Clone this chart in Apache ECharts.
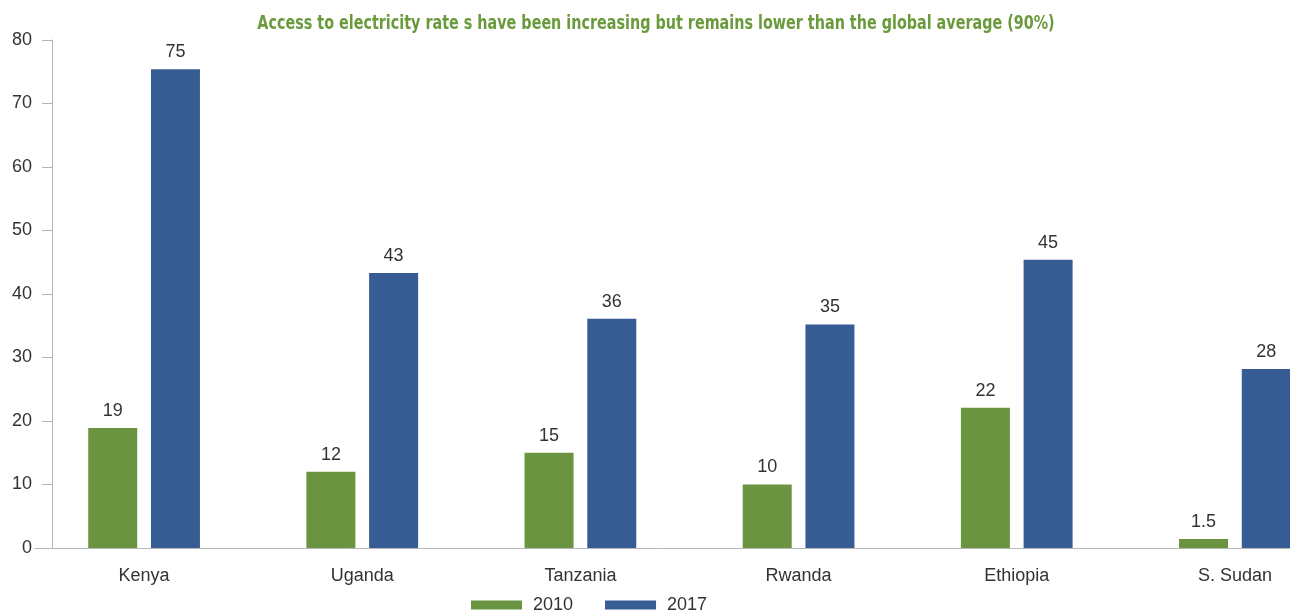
<!DOCTYPE html>
<html>
<head>
<meta charset="utf-8">
<script src="https://cdn.jsdelivr.net/npm/echarts@6/dist/echarts.min.js"></script>
<style>
  html, body { margin: 0; padding: 0; background: #fff; }
  #chart { width: 1290px; height: 615px; }
</style>
</head>
<body>
<div id="chart"></div>
<script>
const countries = ["Kenya", "Uganda", "Tanzania", "Rwanda", "Ethiopia", "S. Sudan"];
// bar heights as drawn, and the rounded labels printed above them
const access2010 = [18.9, 12, 15, 10, 22.1, 1.4];
const access2017 = [75.4, 43.3, 36.1, 35.2, 45.4, 28.2];
const labels2010 = ["19", "12", "15", "10", "22", "1.5"];
const labels2017 = ["75", "43", "36", "35", "45", "28"];
const yTicks = { min: 0, max: 80, interval: 10 };
const titleText = "Access to electricity rate s have been increasing but remains lower than the global average (90%)";

const chart = echarts.init(document.getElementById("chart"));
const makeLabel = (texts) => ({
  show: true, position: "top", distance: 8, color: "#333", fontSize: 18, fontFamily: "Liberation Sans",
  formatter: (p) => texts[p.dataIndex]
});

chart.setOption({
  backgroundColor: "#fff",
  animation: false,
  // condensed title: larger font squeezed horizontally to look like the original
  graphic: [{
    type: "text",
    x: 656,
    y: 24,
    scaleX: 0.84,
    style: {
      text: titleText,
      align: "center",
      verticalAlign: "middle",
      fill: "#6a9a3c",
      font: "bold 19px 'DejaVu Sans Condensed'"
    }
  }],
  legend: {
    top: 591,
    left: 466,
    icon: "rect",
    itemWidth: 51,
    itemHeight: 9,
    itemGap: 32,
    textStyle: { color: "#333", fontSize: 18, fontFamily: "Liberation Sans", padding: [0, 0, 0, 6] },
    data: ["2010", "2017"]
  },
  grid: { left: 35, width: 1309, top: 40, bottom: 67, outerBoundsMode: "none" },
  xAxis: {
    type: "category",
    data: countries,
    axisLine: { lineStyle: { color: "#b5b5b5" } },
    axisTick: { show: false },
    axisLabel: { color: "#333", fontSize: 18, margin: 19, fontFamily: "Liberation Sans" }
  },
  yAxis: {
    type: "value",
    min: yTicks.min,
    max: yTicks.max,
    interval: yTicks.interval,
    offset: -17,
    axisLine: { show: true, lineStyle: { color: "#b5b5b5" } },
    axisTick: { show: true, length: 10, lineStyle: { color: "#b5b5b5" } },
    axisLabel: { color: "#333", fontSize: 18, margin: 20, fontFamily: "Liberation Sans" },
    splitLine: { show: false }
  },
  series: [
    {
      name: "2010",
      type: "bar",
      data: access2010,
      barWidth: 49,
      barGap: "28%",
      itemStyle: { color: "#6a9440" },
      label: makeLabel(labels2010)
    },
    {
      name: "2017",
      type: "bar",
      data: access2017,
      barWidth: 49,
      itemStyle: { color: "#375b93" },
      label: makeLabel(labels2017)
    }
  ]
});
</script>
</body>
</html>
